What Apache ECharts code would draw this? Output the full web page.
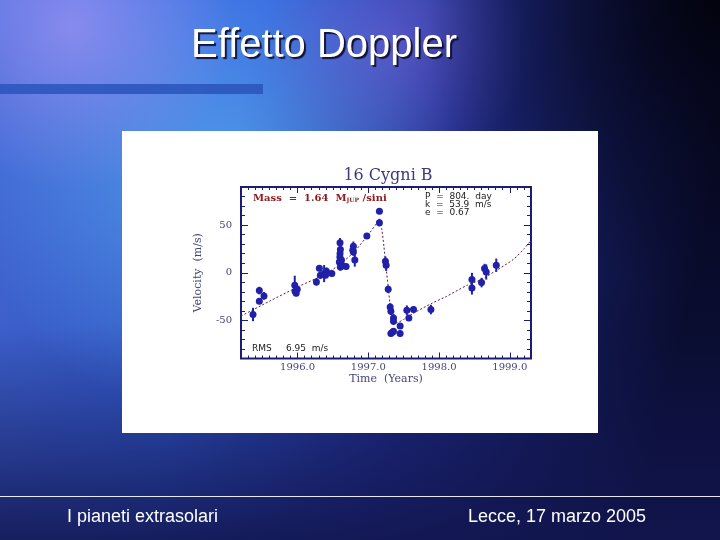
<!DOCTYPE html>
<html>
<head>
<meta charset="utf-8">
<script src="https://cdn.jsdelivr.net/npm/echarts@6/dist/echarts.min.js"></script>
<style>html,body{margin:0;padding:0;background:#101840;}#c{width:720px;height:540px;}</style>
</head>
<body>
<div id="c"></div>
<script>
// ---- data ----
const obsYears = [1995.370,1995.459,1995.459,1995.525,1995.960,1995.965,1995.980,1995.995,
  1996.266,1996.308,1996.322,1996.375,1996.408,1996.395,1996.484,
  1996.600,1996.605,1996.600,1996.598,1996.590,1996.620,1996.630,1996.605,1996.686,
  1996.789,1996.789,1996.780,1996.809,1996.979,1997.157,1997.157,
  1997.242,1997.252,1997.281,1997.309,1997.319,1997.356,1997.356,
  1997.319,1997.356,1997.340,1997.450,1997.450,1997.545,1997.573,1997.639,1997.885,
  1998.465,1998.465,1998.601,1998.643,1998.667,1998.809];
const obsVel = [-43.8,-18.7,-29.9,-24.3,-13.1,-19.5,-21.6,-17.4,
  -9.6,4.7,-2.6,-0.9,1.6,-2.6,-0.9,
  31.5,24.5,20.1,16.6,11.3,13.4,7.9,6.1,6.5,
  27.8,21.8,23.5,13.4,38.6,64.5,52.6,
  12.1,7.9,-17.3,-35.9,-40.4,-47.4,-50.9,
  -63.8,-61.4,-62.5,-55.8,-63.8,-39.3,-47.4,-38.6,-38.6,
  -7.1,-15.9,-10.3,4.4,0.8,7.9];
const obsErr = [7,4,3,4,10,4,3,3,
  4,3,4,9,4,3,3,
  5,5,5,5,5,4,5,4,3,
  5,4,4,7,3,3,4,
  5,6,4,4,4,4,4,
  3,3,3,3,3,5,3,3,5,
  7,7,5,5,8,7];
const fitYears = [1995.20,1995.60,1996.00,1996.40,1996.60,1996.80,1997.00,1997.12,1997.16,
  1997.19,1997.22,1997.25,1997.28,1997.31,1997.35,1997.40,1997.50,1997.65,1997.90,
  1998.10,1998.40,1998.60,1998.80,1999.05,1999.20,1999.30];
const fitVel = [-45.5,-30,-15,-1,9,22,40,52,55.5,
  46,28,6,-14,-34,-47,-52.5,-49,-42,-32,
  -25,-13,-7,2,14,25,34];
const xTickValues = [1996,1997,1998,1999];
const xTickLabels = ['1996.0','1997.0','1998.0','1999.0'];
const yTickValues = [-50,0,50];
const yTickLabels = ['-50','0','50'];

// ---- chart ----
const NAVY = '#1c1c72';
const X_MIN = 1995.2, X_MAX = 1999.3, Y_MIN = -90, Y_MAX = 90;
const xMinor = []; for (let i = 0; i <= 41; i++) xMinor.push(Math.round((X_MIN + i * 0.1) * 10) / 10);
const yMinor = []; for (let v = Y_MIN; v <= Y_MAX; v += 10) yMinor.push(v);

const obs = obsYears.map((y, i) => [y, obsVel[i], obsErr[i]]);
const fit = fitYears.map((y, i) => [y, fitVel[i]]);

const labelFont = {color: '#45457a', fontFamily: 'DejaVu Serif', fontSize: 10};

function xAx(pos, major, withLabel) {
  return {
    type: 'value', position: pos, min: X_MIN, max: X_MAX, gridIndex: 0, z: 3,
    axisLine: {show: false, onZero: false}, splitLine: {show: false},
    axisTick: {show: true, inside: true, length: major ? 6 : 3, customValues: major ? xTickValues : xMinor,
      lineStyle: {color: NAVY, width: 1}},
    axisLabel: withLabel ? Object.assign({show: true, customValues: xTickValues, margin: 4,
      formatter: v => xTickLabels[xTickValues.indexOf(Math.round(v))]}, labelFont) : {show: false},
    name: withLabel ? 'Time  (Years)' : '', nameLocation: 'middle', nameGap: 14,
    nameTextStyle: {color: '#45457a', fontFamily: 'DejaVu Serif', fontSize: 11}
  };
}
function yAx(pos, major, withLabel) {
  return {
    type: 'value', position: pos, min: Y_MIN, max: Y_MAX, gridIndex: 0, z: 3,
    axisLine: {show: false, onZero: false}, splitLine: {show: false},
    axisTick: {show: true, inside: true, length: major ? 7 : 4, customValues: major ? yTickValues : yMinor,
      lineStyle: {color: NAVY, width: 1}},
    axisLabel: withLabel ? Object.assign({show: true, customValues: yTickValues, margin: 9,
      formatter: v => yTickLabels[yTickValues.indexOf(Math.round(v))]}, labelFont) : {show: false},
    name: withLabel ? 'Velocity  (m/s)' : '', nameLocation: 'middle', nameGap: 37, nameRotate: 90,
    nameTextStyle: {color: '#45457a', fontFamily: 'DejaVu Serif', fontSize: 11}
  };
}

const smallFont = '9px "DejaVu Sans"';
const bg = [
  {type: 'rect', z: -100, shape: {x: 0, y: 0, width: 720, height: 540},
    style: {fill: {type: 'linear', x: 0, y: 0, x2: 1, y2: 0.3, colorStops: [
      {offset: 0, color: '#4a70e0'}, {offset: 0.35, color: '#3563dc'}, {offset: 0.65, color: '#1f2c88'}, {offset: 1, color: '#080a28'}]}}},
  {type: 'rect', z: -99, shape: {x: 0, y: 0, width: 720, height: 540},
    style: {fill: {type: 'radial', x: 0.3, y: 0.33, r: 0.45, colorStops: [
      {offset: 0, color: 'rgba(100,190,255,0.7)'}, {offset: 1, color: 'rgba(100,190,255,0)'}]}}},
  {type: 'rect', z: -98, shape: {x: 0, y: 0, width: 720, height: 540},
    style: {fill: {type: 'radial', x: 0.1, y: 0.05, r: 0.3, colorStops: [
      {offset: 0, color: 'rgba(165,150,245,0.7)'}, {offset: 1, color: 'rgba(165,150,245,0)'}]}}},
  {type: 'rect', z: -97, shape: {x: 0, y: 0, width: 720, height: 540},
    style: {fill: {type: 'radial', x: 0.55, y: 0.08, r: 0.25, colorStops: [
      {offset: 0, color: 'rgba(140,110,235,0.45)'}, {offset: 1, color: 'rgba(140,110,235,0)'}]}}},
  {type: 'rect', z: -96, shape: {x: 0, y: 0, width: 720, height: 540},
    style: {fill: {type: 'radial', x: 1, y: 0, r: 0.55, colorStops: [
      {offset: 0, color: 'rgba(2,2,12,0.95)'}, {offset: 1, color: 'rgba(2,2,12,0)'}]}}},
  {type: 'rect', z: -95, shape: {x: 0, y: 0, width: 720, height: 540},
    style: {fill: {type: 'linear', x: 0, y: 0, x2: 0, y2: 1, colorStops: [
      {offset: 0, color: 'rgba(20,25,90,0)'}, {offset: 0.6, color: 'rgba(20,25,90,0.15)'}, {offset: 1, color: 'rgba(18,22,80,0.9)'}]}}},
  {type: 'rect', z: -94, shape: {x: 0, y: 0, width: 263, height: 10}, x: 0, y: 84,
    style: {fill: '#2c56bd', opacity: 0.9}},
  {type: 'rect', z: -93, shape: {x: 0, y: 0, width: 720, height: 1}, x: 0, y: 496,
    style: {fill: 'rgba(255,255,255,0.9)'}},
  {type: 'rect', z: -92, shape: {x: 0, y: 0, width: 476, height: 302}, x: 122, y: 131,
    style: {fill: '#ffffff'}},
  {type: 'text', z: 50, x: 324, y: 46, style: {text: 'Effetto Doppler', fill: '#ffffff',
    font: '40px "Liberation Sans"', align: 'center', verticalAlign: 'middle',
    textShadowColor: 'rgba(10,10,40,0.9)', textShadowOffsetX: 2, textShadowOffsetY: 2, textShadowBlur: 1}},
  {type: 'text', z: 50, x: 67, y: 517, style: {text: 'I pianeti extrasolari', fill: '#ffffff',
    font: '18px "Liberation Sans"', align: 'left', verticalAlign: 'middle'}},
  {type: 'text', z: 50, x: 468, y: 517, style: {text: 'Lecce, 17 marzo 2005', fill: '#ffffff',
    font: '18px "Liberation Sans"', align: 'left', verticalAlign: 'middle'}},
  {type: 'text', z: 50, x: 388, y: 176, style: {text: '16 Cygni B', fill: '#3a3a7a',
    font: '16px "DejaVu Serif"', align: 'center', verticalAlign: 'middle'}},
  {type: 'text', z: 50, x: 253, y: 198, style: {
    text: '{b|Mass  =  1.64  M}{s|JUP}{b| /sini}', rich: {
      b: {fill: '#8a1e24', fontWeight: 'bold', fontSize: 10, fontFamily: 'DejaVu Serif'},
      s: {fill: '#8a1e24', fontWeight: 'bold', fontSize: 6, fontFamily: 'DejaVu Serif', padding: [5, 0, 0, 0]}},
    verticalAlign: 'middle'}},
  {type: 'text', z: 50, x: 425, y: 197, style: {text: 'P  =  804.  day', fill: '#202020',
    font: smallFont, verticalAlign: 'middle'}},
  {type: 'text', z: 50, x: 425, y: 205, style: {text: 'k  =  53.9  m/s', fill: '#202020',
    font: smallFont, verticalAlign: 'middle'}},
  {type: 'text', z: 50, x: 425, y: 213, style: {text: 'e  =  0.67', fill: '#202020',
    font: smallFont, verticalAlign: 'middle'}},
  {type: 'text', z: 50, x: 252, y: 349, style: {text: 'RMS     6.95  m/s', fill: '#202020',
    font: smallFont, verticalAlign: 'middle'}}
];

const chart = echarts.init(document.getElementById('c'), null, {renderer: 'canvas'});
chart.setOption({
  animation: false,
  backgroundColor: '#101840',
  graphic: {elements: bg},
  grid: {left: 241, right: 189, top: 187, bottom: 181.5, show: true, backgroundColor: '#ffffff',
    borderColor: NAVY, borderWidth: 2},
  xAxis: [xAx('bottom', true, true), xAx('bottom', false, false), xAx('top', true, false), xAx('top', false, false)],
  yAxis: [yAx('left', true, true), yAx('left', false, false), yAx('right', true, false), yAx('right', false, false)],
  series: [
    {type: 'line', data: fit, xAxisIndex: 0, yAxisIndex: 0, symbol: 'none', smooth: 0.25, z: 3,
      lineStyle: {color: '#5a1a48', width: 1, type: [2, 2]}},
    {type: 'custom', data: obs, xAxisIndex: 0, yAxisIndex: 0, z: 4, encode: {x: 0, y: 1},
      renderItem: function (params, api) {
        const x = api.value(0), v = api.value(1), e = api.value(2);
        const p1 = api.coord([x, v - e]), p2 = api.coord([x, v + e]);
        return {type: 'line', shape: {x1: p1[0], y1: p1[1], x2: p2[0], y2: p2[1]},
          style: {stroke: '#2222a4', lineWidth: 2}};
      }},
    {type: 'scatter', data: obs.map(d => [d[0], d[1]]), xAxisIndex: 0, yAxisIndex: 0, z: 5,
      symbol: 'circle', symbolSize: 7, itemStyle: {color: '#2020a8', opacity: 1}}
  ]
});
</script>
</body>
</html>
